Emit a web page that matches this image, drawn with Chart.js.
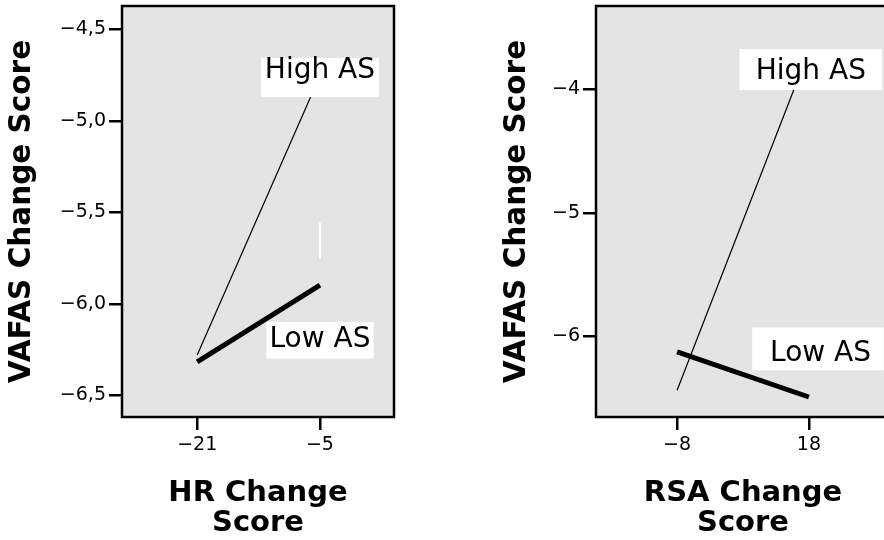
<!DOCTYPE html>
<html>
<head>
<meta charset="utf-8">
<script src="https://cdn.jsdelivr.net/npm/chart.js@4.4.1/dist/chart.umd.min.js"></script>
<style>
html, body { margin: 0; padding: 0; background: #fff; width: 884px; height: 540px; overflow: hidden; }
.panel { position: absolute; top: 0; }
</style>
</head>
<body>
<canvas id="chart_hr" class="panel" width="440" height="540" style="left:0"></canvas>
<canvas id="chart_rsa" class="panel" width="440" height="540" style="left:480px"></canvas>
<script>
// HR panel
const hrX = [-21, -5];
const hrHighAS = [-6.28, -4.753];
const hrLowAS = [-6.318, -5.898];
const hrStray = [-5.557, -5.752]; // short white stroke at x = -5
const hrYTicks = [-6.5, -6.0, -5.5, -5.0, -4.5];
const hrYLabels = ['−6,5', '−6,0', '−5,5', '−5,0', '−4,5'];
const hrXTicks = [-21, -5];
const hrXLabels = ['−21', '−5'];

// RSA panel
const rsaX = [-8, 18];
const rsaHighAS = [-6.438, -3.69];
const rsaLowAS = [-6.127, -6.492];
const rsaYTicks = [-6, -5, -4];
const rsaYLabels = ['−6', '−5', '−4'];
const rsaXTicks = [-8, 18];
const rsaXLabels = ['−8', '18'];

Chart.defaults.font.family = '"DejaVu Sans", sans-serif';
Chart.defaults.color = '#000';

const points = (xs, ys) => xs.map((x, i) => ({ x: x, y: ys[i] }));

const framePlugin = {
    id: 'frame',
    beforeDraw: (chart) => {
        const { ctx, chartArea: a } = chart;
        ctx.save();
        ctx.fillStyle = '#e4e4e4';
        ctx.fillRect(a.left, a.top, a.right - a.left, a.bottom - a.top);
        ctx.restore();
    },
    afterDatasetsDraw: (chart, args, opts) => {
        const { ctx, scales } = chart;
        ctx.save();
        ctx.font = '28px "DejaVu Sans"';
        ctx.textAlign = 'center';
        ctx.textBaseline = 'middle';
        (opts.items || []).forEach(it => {
            const px = scales.x.getPixelForValue(it.x);
            const py = scales.y.getPixelForValue(it.y);
            ctx.fillStyle = '#fff';
            ctx.fillRect(px + it.box[0], py + it.box[2], it.box[1] - it.box[0], it.box[3] - it.box[2]);
            ctx.fillStyle = '#000';
            ctx.fillText(it.text, px, py);
        });
        ctx.restore();
    },
    afterDraw: (chart) => {
        const { ctx, chartArea: a } = chart;
        ctx.save();
        ctx.strokeStyle = '#000';
        ctx.lineWidth = 2.5;
        ctx.strokeRect(a.left, a.top, a.right - a.left, a.bottom - a.top);
        ctx.restore();
    }
};

function makeChart(id, cfg) {
    const tickGrid = { drawOnChartArea: false, drawTicks: true, tickLength: 13, color: '#000', lineWidth: 2.5 };
    return new Chart(document.getElementById(id), {
        type: 'line',
        data: { datasets: cfg.datasets },
        options: {
            responsive: false,
            animation: false,
            layout: { padding: { top: 6, right: cfg.padRight, bottom: 0, left: 0 } },
            plugins: {
                legend: { display: false },
                tooltip: { enabled: false },
                frame: { items: cfg.labels }
            },
            scales: {
                x: {
                    type: 'linear',
                    min: cfg.xMin,
                    max: cfg.xMax,
                    afterFit: (s) => { s.height = 123; s.paddingLeft = 0; s.paddingRight = 0; },
                    afterBuildTicks: (s) => { s.ticks = cfg.xTicks.map(v => ({ value: v })); },
                    ticks: {
                        callback: (v, i) => cfg.xLabels[i],
                        font: { size: 19 },
                        color: '#000',
                        padding: 4,
                        maxRotation: 0,
                        autoSkip: false
                    },
                    grid: tickGrid,
                    border: { display: false },
                    title: {
                        display: true,
                        text: cfg.xTitle,
                        color: '#000',
                        font: { size: 29, weight: 'bold', lineHeight: 1.03 },
                        padding: { top: 0, bottom: 2 }
                    }
                },
                y: {
                    type: 'linear',
                    min: cfg.yMin,
                    max: cfg.yMax,
                    afterFit: (s) => { s.width = cfg.yWidth; s.paddingTop = 0; s.paddingBottom = 0; },
                    afterBuildTicks: (s) => { s.ticks = cfg.yTicks.map(v => ({ value: v })); },
                    ticks: {
                        callback: (v, i) => cfg.yLabels[i],
                        font: { size: 19 },
                        color: '#000',
                        padding: 3,
                        autoSkip: false
                    },
                    grid: tickGrid,
                    border: { display: false },
                    title: {
                        display: true,
                        text: 'VAFAS Change Score',
                        color: '#000',
                        font: { size: 29.5, weight: 'bold', lineHeight: 1.2 },
                        padding: { top: cfg.yTitlePad, bottom: 0 }
                    }
                }
            }
        },
        plugins: [framePlugin]
    });
}

const chart_hr = makeChart('chart_hr', {
    datasets: [
        { label: 'Low AS', data: points(hrX, hrLowAS), borderColor: '#000', borderWidth: 5, pointRadius: 0 },
        { label: 'High AS', data: points(hrX, hrHighAS), borderColor: '#000', borderWidth: 1.2, pointRadius: 0 },
        { label: '', data: points([-5, -5], hrStray), borderColor: '#fff', borderWidth: 2, pointRadius: 0 }
    ],
    labels: [
        { text: 'High AS', x: -5, y: -4.728, box: [-59, 59, -13, 26] },
        { text: 'Low AS', x: -5, y: -6.194, box: [-53.6, 53.7, -17.3, 19.3] }
    ],
    xMin: -30.8, xMax: 4.65,
    yMin: -6.619, yMax: -4.372,
    xTicks: hrXTicks, xLabels: hrXLabels,
    yTicks: hrYTicks, yLabels: hrYLabels,
    xTitle: ['HR Change', 'Score'],
    yWidth: 122,
    yTitlePad: 5.1,
    padRight: 46
});

const chart_rsa = makeChart('chart_rsa', {
    datasets: [
        { label: 'Low AS', data: points(rsaX, rsaLowAS), borderColor: '#000', borderWidth: 5, pointRadius: 0 },
        { label: 'High AS', data: points(rsaX, rsaHighAS), borderColor: '#000', borderWidth: 1.2, pointRadius: 0 }
    ],
    labels: [
        { text: 'High AS', x: 18.38, y: -3.861, box: [-71.3, 71.3, -23.2, 17.8] },
        { text: 'Low AS', x: 20.3, y: -6.14, box: [-68.3, 63.3, -26, 16.7] }
    ],
    xMin: -24, xMax: 34,
    yMin: -6.654, yMax: -3.325,
    xTicks: rsaXTicks, xLabels: rsaXLabels,
    yTicks: rsaYTicks, yLabels: rsaYLabels,
    xTitle: ['RSA Change', 'Score'],
    yWidth: 116,
    yTitlePad: 20.1,
    padRight: 30
});
</script>
</body>
</html>
